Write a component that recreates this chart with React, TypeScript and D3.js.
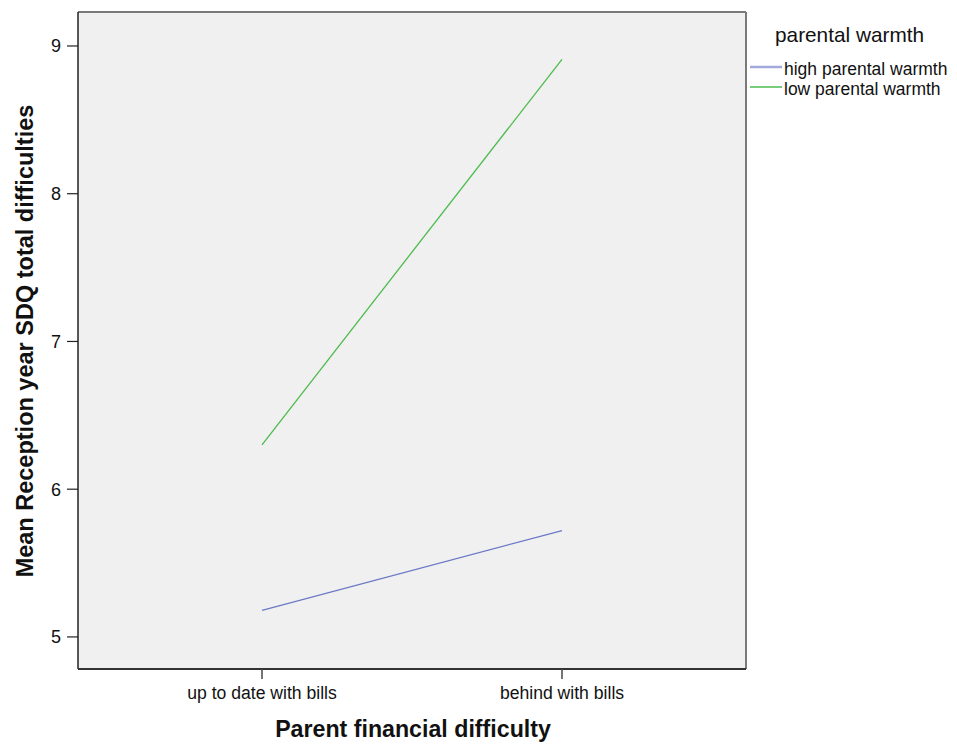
import React from "react";
import * as d3 from "d3";

const categories = ["up to date with bills", "behind with bills"];
const seriesNames = ["high parental warmth", "low parental warmth"];
const highValues = [5.18, 5.72];
const lowValues = [6.3, 8.91];
const yTicks = [5, 6, 7, 8, 9];
const colors = ["#6b78c6", "#4cbb4c"];

export default function App() {
  const W = 957, H = 744;
  const left = 78, right = 746, top = 12, bottom = 669;
  const y = d3.scaleLinear().domain([4.783, 9.23]).range([bottom, top]);
  const x = d3.scalePoint().domain(categories).range([262, 562]);
  const line = d3.line<number>().x((_, i) => x(categories[i])!).y((d) => y(d));
  const series = [highValues, lowValues];
  const font = "Arial, 'Liberation Sans', sans-serif";
  const legendY = [67, 87];
  return (
    <svg width={W} height={H} style={{ position: "absolute", left: 0, top: 0 }} fontFamily={font}>
      <rect x={0} y={0} width={W} height={H} fill="#fff" />
      <rect x={left} y={top} width={right - left} height={bottom - top} fill="#f0f0f0" />
      <line x1={left} y1={top} x2={right} y2={top} stroke="#7a7a7a" strokeWidth={2} />
      <line x1={right} y1={top} x2={right} y2={bottom} stroke="#7a7a7a" strokeWidth={2} />
      <line x1={left} y1={top} x2={left} y2={bottom} stroke="#222" strokeWidth={1.5} />
      <line x1={left} y1={bottom} x2={right} y2={bottom} stroke="#333" strokeWidth={2} />
      {yTicks.map((t) => (
        <g key={t}>
          <line x1={67} x2={left} y1={y(t)} y2={y(t)} stroke="#222" strokeWidth={1.2} />
          <text x={61} y={y(t)} dy="0.36em" textAnchor="end" fontSize={18} fill="#111">{t}</text>
        </g>
      ))}
      {categories.map((c) => (
        <g key={c}>
          <line x1={x(c)} x2={x(c)} y1={bottom} y2={679} stroke="#444" strokeWidth={1.5} />
          <text x={x(c)} y={699} textAnchor="middle" fontSize={17.6} fill="#111">{c}</text>
        </g>
      ))}
      {series.map((s, i) => (
        <path key={i} d={line(s)!} fill="none" stroke={colors[i]} strokeWidth={1.3} />
      ))}
      <text x={413} y={737} textAnchor="middle" fontSize={23.2} fontWeight="bold" fill="#111">Parent financial difficulty</text>
      <text transform={`translate(33,341) rotate(-90)`} textAnchor="middle" fontSize={23.5} fontWeight="bold" fill="#111">Mean Reception year SDQ total difficulties</text>
      <text x={775} y={42} fontSize={20.8} fill="#111">parental warmth</text>
      {seriesNames.map((n, i) => (
        <g key={n}>
          <line x1={750} x2={782} y1={legendY[i]} y2={legendY[i]} stroke={i === 0 ? "#a3a9dc" : colors[i]} strokeWidth={i === 0 ? 2.5 : 1.5} />
          <text x={784} y={legendY[i] + 8} fontSize={17.5} fill="#111">{n}</text>
        </g>
      ))}
    </svg>
  );
}
